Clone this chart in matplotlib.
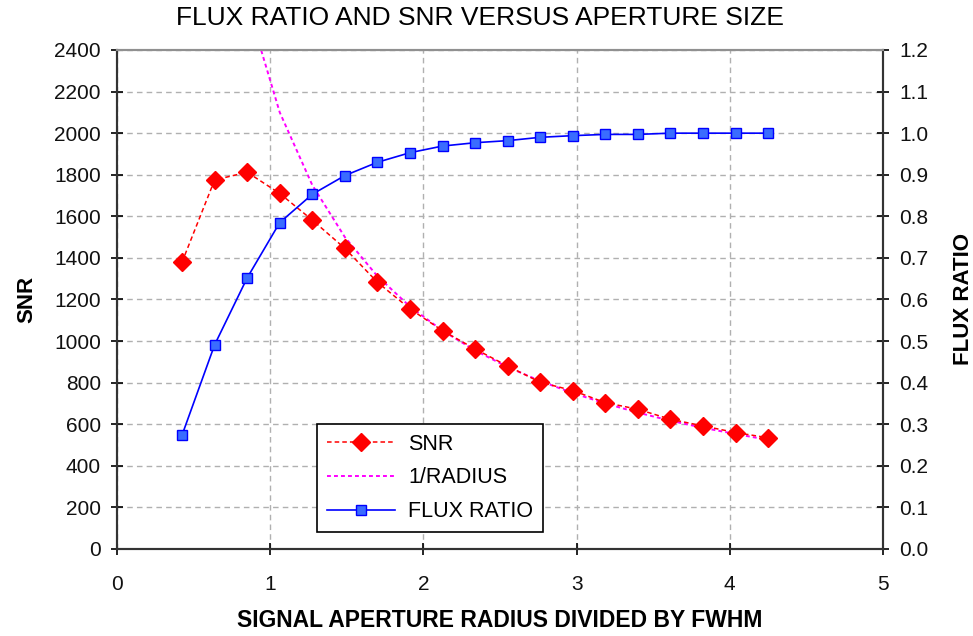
import matplotlib
matplotlib.use("Agg")
import matplotlib.pyplot as plt

plt.rcParams['font.family'] = ['Liberation Sans', 'DejaVu Sans']

# aperture radius / FWHM
radius = [0.425, 0.6375, 0.85, 1.0625, 1.275, 1.4875, 1.70, 1.9125, 2.125, 2.3375,
          2.55, 2.7625, 2.975, 3.1875, 3.40, 3.6125, 3.825, 4.0375, 4.25]
snr = [1380, 1775, 1812, 1710, 1582, 1446, 1283, 1155, 1050, 962,
       880, 802, 762, 704, 672, 624, 592, 560, 535]
flux_ratio = [0.274, 0.491, 0.652, 0.785, 0.853, 0.898, 0.930, 0.953, 0.969, 0.977,
              0.982, 0.990, 0.994, 0.997, 0.997, 1.0, 1.0, 1.0, 1.0]
inv_radius = [2624, 2100, 1750, 1500, 1312, 1166, 1050, 955,
              875, 808, 750, 700, 656, 617, 583, 553, 525]

fig = plt.figure(figsize=(9.73, 6.36), dpi=100)
ax = fig.add_axes([0.1202, 0.1368, 0.7873, 0.7846])
ax2 = ax.twinx()

# SNR axis
l1, = ax.plot(radius, snr, color='#ff0000', linestyle=(0, (3, 2)), linewidth=1.1,
              marker='D', markersize=9, markerfacecolor='#ff0000',
              markeredgecolor='#ff0000', label='SNR', zorder=4)
l2, = ax.plot(radius[2:], inv_radius, color='#ff00ff', linestyle=(0, (2, 1.6)),
              linewidth=1.4, label='1/RADIUS', zorder=3)

# flux ratio axis
l3, = ax2.plot(radius, flux_ratio, color='#0000ff', linewidth=1.2,
               marker='s', markersize=7.5, markerfacecolor='#3a6cff',
               markeredgecolor='#0000ff', label='FLUX RATIO', zorder=4)

ax.set_xlim(0, 5)
ax.set_ylim(0, 2400)
ax.set_yticks(range(0, 2401, 200))
ax.set_xticks(range(0, 6))
ax2.set_ylim(0, 1.2)
ax2.set_yticks([i / 10 for i in range(13)])
ax2.set_yticklabels(['%.1f' % (i / 10) for i in range(13)])

ax.grid(True, color='#b0b0b0', linestyle=(0, (4, 3)), linewidth=1)
ax.set_axisbelow(True)

for a in (ax, ax2):
    a.tick_params(direction='inout', length=9, width=1.2, labelsize=15,
                  colors='#000000', labelcolor='#111111')
    a.spines['top'].set_color('#909090')
    a.spines['top'].set_linewidth(1.5)
    for s in ('left', 'right', 'bottom'):
        a.spines[s].set_linewidth(1.5)
        a.spines[s].set_color('#333333')
ax.tick_params(axis='x', pad=14)
ax.tick_params(axis='y', pad=7)
ax2.tick_params(axis='y', pad=7)

fig.text(480 / 973, 1 - 18 / 636, 'FLUX RATIO AND SNR VERSUS APERTURE SIZE',
         fontsize=19, ha='center', va='center')
ax.set_xlabel('SIGNAL APERTURE RADIUS DIVIDED BY FWHM', fontsize=16.5,
              fontweight='bold', labelpad=11)
ax.set_ylabel('SNR', fontsize=16, fontweight='bold', labelpad=12)
ax2.set_ylabel('FLUX RATIO', fontsize=16, fontweight='bold', labelpad=18)

leg = ax2.legend(handles=[l1, l2, l3], loc='lower left',
                 bbox_to_anchor=(0.261, 0.034), borderaxespad=0, fontsize=15.5,
                 frameon=True, fancybox=False, edgecolor='#000000',
                 framealpha=1, handlelength=3.2, handletextpad=0.6,
                 borderpad=0.45, labelspacing=0.6)
leg.get_frame().set_linewidth(1.2)

fig.savefig('out.png', dpi=100)
